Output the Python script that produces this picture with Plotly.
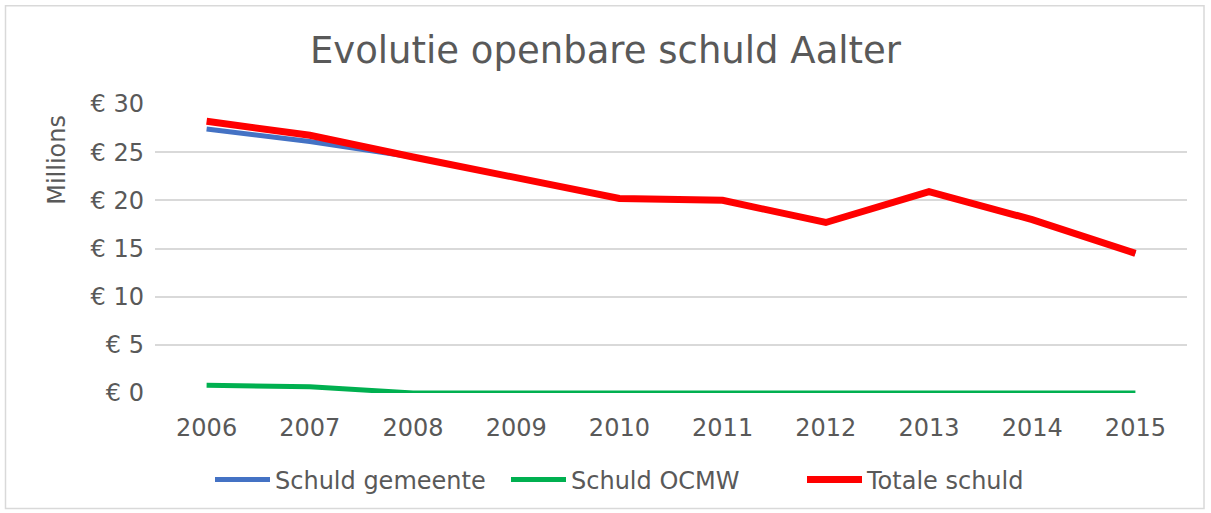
import plotly.graph_objects as go

years = ["2006", "2007", "2008", "2009", "2010", "2011", "2012", "2013", "2014", "2015"]
schuld_gemeente = [27.4, 26.1, 24.5, 22.3, 20.2, 20.0, 17.7, 20.9, 18.0, 14.5]
schuld_ocmw = [0.8, 0.65, 0.0, 0.0, 0.0, 0.0, 0.0, 0.0, 0.0, 0.0]
totale_schuld = [28.2, 26.75, 24.5, 22.3, 20.2, 20.0, 17.7, 20.9, 18.0, 14.5]
y_ticks = [0, 5, 10, 15, 20, 25, 30]
y_tick_labels = ["€ 0", "€ 5", "€ 10", "€ 15", "€ 20", "€ 25", "€ 30"]

font_family = "DejaVu Sans, Verdana, sans-serif"
text_color = "#595959"

W, H = 1211, 513
ML, MR, MT, MB = 155, 24, 104, 119
PW, PH = W - ML - MR, H - MT - MB


def px_x(px):
    return (px - ML) / PW


def px_y(py):
    return (H - MB - py) / PH


fig = go.Figure()
fig.add_trace(go.Scatter(x=years, y=schuld_gemeente, mode="lines", name="Schuld gemeente",
                         line=dict(color="#4472C4", width=5)))
fig.add_trace(go.Scatter(x=years, y=schuld_ocmw, mode="lines", name="Schuld OCMW",
                         line=dict(color="#00B050", width=5)))
fig.add_trace(go.Scatter(x=years, y=totale_schuld, mode="lines", name="Totale schuld",
                         line=dict(color="#FF0000", width=7)))

fig.update_layout(
    width=W, height=H,
    paper_bgcolor="white", plot_bgcolor="white",
    margin=dict(l=ML, r=MR, t=MT, b=MB),
    font=dict(family=font_family, color=text_color, size=23),
    title=dict(text="Evolutie openbare schuld Aalter", x=0.5, xanchor="center",
               y=1 - 50 / H, yanchor="middle", font=dict(size=37, color=text_color)),
    xaxis=dict(type="category", range=[-0.5, 9.5], showgrid=False, zeroline=False,
               showline=False, ticks="", tickfont=dict(size=24), ticklabelstandoff=18),
    yaxis=dict(range=[0, 30], tickmode="array", tickvals=y_ticks, ticktext=y_tick_labels,
               showgrid=True, gridcolor="#D9D9D9", gridwidth=1.5, zeroline=False,
               showline=False, ticks="", tickfont=dict(size=24), ticklabelstandoff=10),
    legend=dict(orientation="h", x=px_x(210), xanchor="left", y=px_y(480), yanchor="middle",
                font=dict(size=24), itemwidth=55, entrywidth=226, entrywidthmode="pixels",
                traceorder="normal", bgcolor="rgba(0,0,0,0)"),
    showlegend=True,
)
fig.add_annotation(text="Millions", textangle=-90, x=px_x(57), y=px_y(160),
                   xref="paper", yref="paper", xanchor="center", yanchor="middle",
                   showarrow=False, font=dict(size=24, color=text_color))
fig.add_shape(type="rect", xref="paper", yref="paper",
              x0=px_x(5.5), x1=px_x(1204), y0=px_y(510), y1=px_y(5.5),
              line=dict(color="#D9D9D9", width=1.5))

fig.write_html("out.html", config={"displayModeBar": False},
               post_script="document.body.style.margin='0';")
